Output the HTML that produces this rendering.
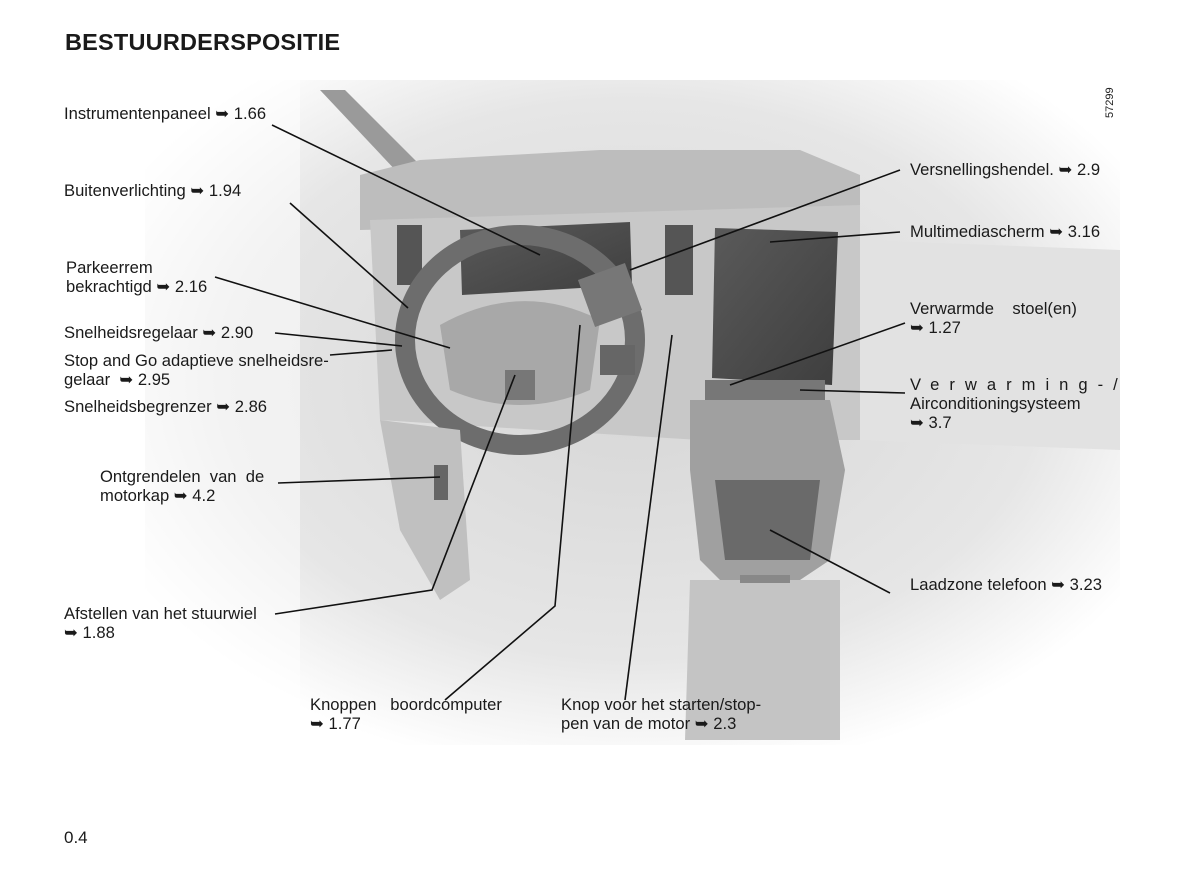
<!DOCTYPE html>
<html><head><meta charset="utf-8"><style>
body{margin:0;background:#fff;width:1182px;height:875px;overflow:hidden;position:relative;font-family:"Liberation Sans",sans-serif;color:#1a1a1a}
.t{position:absolute;font-size:16.6px;line-height:19px;white-space:nowrap}
h1{position:absolute;left:65px;top:29px;margin:0;font-size:23.5px;font-weight:bold;letter-spacing:0.2px}
</style></head><body>
<svg width="1182" height="875" style="position:absolute;left:0;top:0">
<defs>
<radialGradient id="bg" cx="0.5" cy="0.45" r="0.6"><stop offset="0" stop-color="#d6d6d6"/><stop offset="0.7" stop-color="#e6e6e6"/><stop offset="1" stop-color="#fff"/></radialGradient>
<linearGradient id="scr" x1="0" y1="0" x2="1" y2="1"><stop offset="0" stop-color="#5a5a5a"/><stop offset="1" stop-color="#3e3e3e"/></linearGradient>
</defs>
<rect x="145" y="80" width="975" height="665" fill="url(#bg)"/>
<rect x="140" y="80" width="160" height="665" fill="#fff" opacity="0.5"/>
<polygon points="320,90 345,90 420,165 400,175" fill="#9a9a9a"/>
<polygon points="360,175 420,160 600,150 800,150 860,175 860,220 360,230" fill="#bdbdbd"/>
<polygon points="370,220 860,205 860,440 700,440 380,420" fill="#c8c8c8"/>
<polygon points="460,230 630,222 632,285 462,295" fill="url(#scr)"/>
<rect x="397" y="225" width="25" height="60" fill="#555"/>
<rect x="665" y="225" width="28" height="70" fill="#555"/>
<polygon points="715,228 838,232 832,385 712,378" fill="url(#scr)"/>
<rect x="705" y="380" width="120" height="28" fill="#777"/>
<ellipse cx="520" cy="340" rx="115" ry="105" fill="none" stroke="#6d6d6d" stroke-width="20"/>
<path d="M440,325 Q520,280 600,320 L590,390 Q520,420 450,390 Z" fill="#a8a8a8"/>
<rect x="505" y="370" width="30" height="30" fill="#777"/>
<rect x="600" y="345" width="35" height="30" fill="#666"/>
<rect x="585" y="270" width="50" height="50" fill="#777" transform="rotate(-20 610 295)"/>
<polygon points="690,400 830,400 845,470 830,560 800,580 720,580 700,560 690,470" fill="#a0a0a0"/>
<polygon points="715,480 820,480 810,560 725,560" fill="#6a6a6a"/>
<polygon points="690,580 840,580 840,740 685,740" fill="#c4c4c4"/>
<rect x="740" y="575" width="50" height="8" fill="#888"/>
<polygon points="380,420 460,430 470,580 440,600 400,530" fill="#c0c0c0"/>
<rect x="434" y="465" width="14" height="35" fill="#666"/>
<polygon points="860,240 1120,250 1120,450 860,440" fill="#e2e2e2"/>
<g stroke="#111" stroke-width="1.6" fill="none">
<line x1="272" y1="125" x2="540" y2="255"/>
<line x1="290" y1="203" x2="408" y2="308"/>
<line x1="215" y1="277" x2="450" y2="348"/>
<line x1="275" y1="333" x2="402" y2="346"/>
<line x1="330" y1="355" x2="392" y2="350"/>
<line x1="278" y1="483" x2="440" y2="477"/>
<polyline points="275,614 432,590 515,375"/>
<polyline points="445,700 555,606 580,325"/>
<line x1="625" y1="700" x2="672" y2="335"/>
<line x1="900" y1="170" x2="630" y2="270"/>
<line x1="900" y1="232" x2="770" y2="242"/>
<line x1="905" y1="323" x2="730" y2="385"/>
<line x1="905" y1="393" x2="800" y2="390"/>
<line x1="890" y1="593" x2="770" y2="530"/>
</g>
<text x="1113" y="118" font-size="11" font-family="Liberation Sans" transform="rotate(-90 1113 118)" fill="#222">57299</text>
</svg>
<h1>BESTUURDERSPOSITIE</h1>
<div class="t" style="left:64px;top:104px">Instrumentenpaneel ➥ 1.66</div>
<div class="t" style="left:64px;top:181px">Buitenverlichting ➥ 1.94</div>
<div class="t" style="left:66px;top:258px">Parkeerrem<br>bekrachtigd ➥ 2.16</div>
<div class="t" style="left:64px;top:323px">Snelheidsregelaar ➥ 2.90</div>
<div class="t" style="left:64px;top:351px">Stop and Go adaptieve snelheidsre-<br>gelaar &nbsp;➥ 2.95</div>
<div class="t" style="left:64px;top:397px">Snelheidsbegrenzer ➥ 2.86</div>
<div class="t" style="left:100px;top:467px">Ontgrendelen &nbsp;van &nbsp;de<br>motorkap ➥ 4.2</div>
<div class="t" style="left:64px;top:604px">Afstellen van het stuurwiel<br>➥ 1.88</div>
<div class="t" style="left:310px;top:695px">Knoppen &nbsp;&nbsp;boordcomputer<br>➥ 1.77</div>
<div class="t" style="left:561px;top:695px">Knop voor het starten/stop-<br>pen van de motor ➥ 2.3</div>
<div class="t" style="left:910px;top:160px">Versnellingshendel. ➥ 2.9</div>
<div class="t" style="left:910px;top:222px">Multimediascherm ➥ 3.16</div>
<div class="t" style="left:910px;top:299px">Verwarmde &nbsp;&nbsp;&nbsp;stoel(en)<br>➥ 1.27</div>
<div class="t" style="left:910px;top:375px;letter-spacing:10px">Verwarming-/</div>
<div class="t" style="left:910px;top:394px">Airconditioningsysteem<br>➥ 3.7</div>
<div class="t" style="left:910px;top:575px">Laadzone telefoon ➥ 3.23</div>
<div class="t" style="left:64px;top:828px;font-size:17px">0.4</div>
</body></html>
